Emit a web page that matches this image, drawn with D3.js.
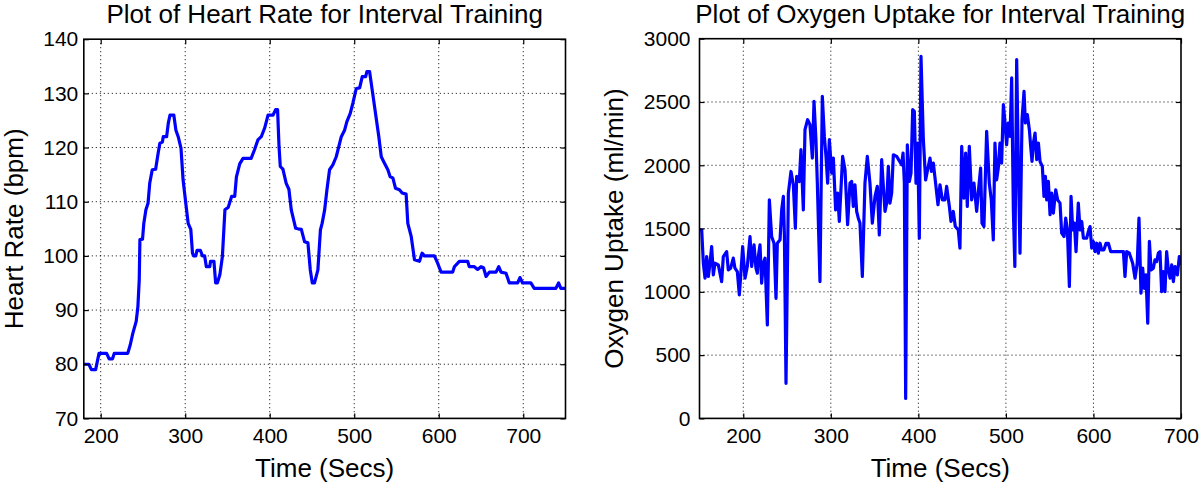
<!DOCTYPE html>
<html><head><meta charset="utf-8">
<script src="https://cdn.jsdelivr.net/npm/d3@7"></script>
<style>
html,body{margin:0;padding:0;background:#fff;}
svg{display:block;font-family:"Liberation Sans",Arial,Helvetica,sans-serif;}
</style></head>
<body>
<svg id="chart" width="1200" height="484"></svg>
<script>
// ---- Heart rate data ----
const hrTime = [180,186,189,194,198,207,210,214,216,232,235,238,242,244,245.6,246.4,249.5,251,253.5,256,258,261,265,268,270,273,274,278,280,282,286.5,289,291.7,295,297.5,300.7,303.5,306.6,308.6,310,312.5,314,318,320.4,323,325,329,330,334,336,338,341,344,347,351,355,358.6,360.6,364.5,368.4,378,382,386,390,394,398,404,407,409.3,411,412.5,415.6,419.5,422.7,425.5,430.7,433.4,437.4,441.3,445.2,448,450.4,453,457,460,462,465,467.7,470.8,474.7,478.7,481.8,484.7,488.6,491.3,495.3,498.4,502.4,506.4,509.5,513.5,515,518.2,521.3,525.2,529.1,532,535.8,539.8,542.5,545.7,548.8,553.5,556.7,561.4,563.4,567.4,571.3,577.2,580.3,583.1,594.9,598.8,602.8,616.5,618.5,624.4,634.2,636.2,642.1,646,650,653,656,659.9,667.8,671,673.7,679.6,683.5,693.4,696.1,699.2,709,713,738.6,741.8,744.5,750];
const hrValue = [80,80,79,79,82,82,81,81,82,82,83.6,85.7,87.9,90.6,95.6,103,103.1,106,108.5,109.7,113.4,115.9,116,119,120.8,121,122,122,124.5,126,126,123.2,122,119.9,114,109.7,106,104.9,100.5,100,100,101,101,100,100,98,98,99,99,95,95,96.5,99.9,108.5,109,111,111,114.6,117,118,118,119.6,121.4,122,123.6,126,126,127,127,120.2,116.5,116,113.4,112.3,108.5,105.1,105,104.9,102.6,102.4,97.4,95,95,97.4,104.8,106,108.5,112.2,115.9,116.8,118.3,120.2,122,123.2,124.8,126.3,128.2,130.9,131,133.1,133.1,134,134,130.6,126.3,122,118.3,117.1,115.9,114.6,114.4,112.5,112.2,111.6,111.4,106,103.6,99.3,99,100.5,100,100,98.6,97,97,98,99,99,98,98,97.5,98,97.8,96.2,97,97,98,97,96.8,95,95,96,95,95,94,94,95,94,94];

// ---- Oxygen uptake data ----
const o2Time = [150.6,152.5,154.4,156.3,158.2,160.1,162,163.9,165.8,167.7,171.5,175.3,177.2,181,182.9,185.6,188.6,190.5,193.2,195.5,197,199.3,202,204.6,207.7,209.6,212.3,214.5,216.1,217.2,219.1,221,222.9,224.8,227.5,229.8,232.4,235.1,237.4,238.9,242,243.9,245.8,247,248.8,251.5,254.5,257.2,259.5,261,264,265.9,268.6,270.5,273.5,276.2,278.9,280.8,283,284.6,287.6,290.3,292.6,294.5,296.4,298.3,301,302.9,305.5,307.8,309.7,313.5,316.2,319.2,321.9,323.8,325.7,327.6,329.5,331.4,333.3,336,339,341.7,344.7,347.4,350.5,353.1,355.4,358.1,360,361.9,363.8,365.7,367.6,369.5,371.4,375.2,380.9,382.5,384,385.5,387.4,389.7,391.6,393.5,395.4,397.3,399.2,401.1,403,405.7,408.3,410.6,413.3,415,417.1,420.1,422.4,424.7,427.4,430.4,432.3,435.4,437.3,439.9,442.2,445.6,447.5,449.5,452.1,454,455.9,458.2,460.9,463.5,466.6,468.9,471.1,472.7,474.9,478,481,483.3,485.6,487.5,489.4,491.3,493.2,495.1,497.1,499,500.8,502.8,504.7,506.6,508.5,510.2,512.3,514.2,516.1,518.4,520.7,522.2,524.5,526.8,528.3,529.8,531.4,533.3,535.2,537.1,539,541.6,543.5,545.1,546.6,548.5,550.4,552.3,554.2,556.9,559.1,561.8,563.7,566.4,568.3,570.2,572.5,574.4,576.3,578.2,580.1,582.7,584.7,586.6,588.5,592.3,594.2,596.1,598,599.9,601.8,603.7,605.6,607.5,609.4,612,614.4,617,619.7,634.2,636,638,641,644.8,647.5,650,652,654.3,656.2,658.1,660,662,663.9,665.8,668.4,670.3,672.2,674.1,676,677.9,679.8,681.7,683.6,685.5,687.5,689.4,691.3,693.2,695.9,698.1,700];
const o2Value = [1490,1490,1226,1108,1279,1121,1226,1358,1134,1226,1213,1081,1279,1318,1173,1187,1266,1187,1160,976,1121,1358,1108,1200,1437,1200,1371,1187,1147,1279,1371,1068,1226,1266,738,1727,1437,1384,949,1384,1411,1648,1754,1437,277,1780,1951,1846,1503,1912,1872,2123,1648,2281,2360,2321,2057,2505,2202,1859,1081,2545,2228,2070,1859,2202,1938,2057,1648,1780,1556,2070,1965,1530,1859,1872,1675,1846,1635,1582,1543,1121,1859,2070,1859,1543,1754,1833,1450,2044,1833,1635,1701,1991,1701,1780,2083,2070,2004,2096,1859,158,2162,1872,1938,2439,2426,1859,2176,1424,2861,2202,1885,1965,2057,1951,2017,1833,1688,1846,1727,1727,1833,1675,1556,1635,1516,1490,1345,2149,1740,2096,1675,2149,1727,1859,1635,1820,1978,1543,1516,2268,1859,1727,1411,2176,1885,1978,2176,2017,2479,2334,2162,2334,2228,2690,1648,1200,2835,2017,1305,2360,2584,2334,2400,2281,2149,2030,2176,2255,2044,2176,2030,1991,1754,1912,1727,1872,1609,1780,1622,1806,1727,1701,1464,1437,1582,1490,1042,1754,1490,1543,1318,1701,1490,1556,1424,1424,1477,1516,1345,1398,1318,1384,1305,1384,1332,1332,1384,1384,1318,1318,1121,1318,1305,1226,1108,1226,1582,989,1187,1028,1134,752,1398,1173,1187,1253,1239,1305,1318,1002,1160,1002,1318,1173,1108,1213,1081,1200,1134,1279,1226];

// ---- Axis settings ----
const hrTitle = "Plot of Heart Rate for Interval Training";
const hrYLabel = "Heart Rate (bpm)";
const hrXDomain = [180, 750];
const hrYDomain = [70, 140];
const hrXTicks = [200, 300, 400, 500, 600, 700];
const hrYTicks = [70, 80, 90, 100, 110, 120, 130, 140];

const o2Title = "Plot of Oxygen Uptake for Interval Training";
const o2YLabel = "Oxygen Uptake (ml/min)";
const o2XDomain = [150, 700];
const o2YDomain = [0, 3000];
const o2XTicks = [200, 300, 400, 500, 600, 700];
const o2YTicks = [0, 500, 1000, 1500, 2000, 2500, 3000];

const xLabel = "Time (Secs)";

const svg = d3.select("#chart");

function panel(opts) {
  const {left, right, top, bottom, xDomain, yDomain, xTicks, yTicks, times, values, title, yLabel, yLabelX, yTickGap, clipId} = opts;
  const x = d3.scaleLinear().domain(xDomain).range([left, right]);
  const y = d3.scaleLinear().domain(yDomain).range([bottom, top]);
  const g = svg.append("g");

  // grid (dotted)
  const grid = g.append("g").attr("stroke", "#000").attr("stroke-width", 1).attr("stroke-dasharray", "1,3");
  xTicks.filter(t => x(t) > left + 1 && x(t) < right - 1).forEach(t => {
    grid.append("line").attr("x1", x(t)).attr("x2", x(t)).attr("y1", top).attr("y2", bottom);
  });
  yTicks.filter(t => y(t) > top + 1 && y(t) < bottom - 1).forEach(t => {
    grid.append("line").attr("x1", left).attr("x2", right).attr("y1", y(t)).attr("y2", y(t));
  });

  // data line
  svg.append("clipPath").attr("id", clipId).append("rect")
    .attr("x", left).attr("y", top).attr("width", right - left).attr("height", bottom - top);
  const line = d3.line().x((d, i) => x(times[i])).y((d, i) => y(values[i]));
  g.append("path").datum(values)
    .attr("clip-path", `url(#${clipId})`)
    .attr("fill", "none").attr("stroke", "#0000ff").attr("stroke-width", 3.2)
    .attr("stroke-linejoin", "round").attr("stroke-linecap", "round")
    .attr("d", line);

  // axes with inward ticks
  const tl = 5;
  const xAxisB = d3.axisBottom(x).tickValues(xTicks).tickSize(-tl).tickPadding(tl + 8).tickSizeOuter(0).tickFormat(d3.format("d"));
  const xAxisT = d3.axisTop(x).tickValues(xTicks).tickSize(-tl).tickSizeOuter(0).tickFormat("");
  const yAxisL = d3.axisLeft(y).tickValues(yTicks).tickSize(-tl).tickPadding(tl + yTickGap).tickSizeOuter(0).tickFormat(d3.format("d"));
  const yAxisR = d3.axisRight(y).tickValues(yTicks).tickSize(-tl).tickSizeOuter(0).tickFormat("");

  const ax = [
    g.append("g").attr("transform", `translate(0,${bottom})`).call(xAxisB),
    g.append("g").attr("transform", `translate(0,${top})`).call(xAxisT),
    g.append("g").attr("transform", `translate(${left},0)`).call(yAxisL),
    g.append("g").attr("transform", `translate(${right},0)`).call(yAxisR)
  ];
  ax.forEach(a => {
    a.select(".domain").remove();
    a.selectAll(".tick line").attr("stroke", "#000").attr("stroke-width", 1.2);
    a.selectAll(".tick text").attr("fill", "#000").style("font-size", "21px")
      .style("font-family", '"Liberation Sans",Arial,Helvetica,sans-serif');
  });
  ax[0].selectAll(".tick text").attr("dy", "0.71em").attr("y", 10);

  // box
  g.append("rect").attr("x", left).attr("y", top).attr("width", right - left).attr("height", bottom - top)
    .attr("fill", "none").attr("stroke", "#000").attr("stroke-width", 1.6);

  // title
  g.append("text").attr("x", (left + right) / 2).attr("y", 23).attr("text-anchor", "middle")
    .style("font-size", "26px").attr("fill", "#000").text(title);
  // x label
  g.append("text").attr("x", (left + right) / 2).attr("y", 477).attr("text-anchor", "middle")
    .style("font-size", "26px").attr("fill", "#000").text(xLabel);
  // y label
  g.append("text").attr("transform", `translate(${yLabelX},${(top + bottom) / 2}) rotate(-90)`)
    .attr("text-anchor", "middle").style("font-size", "26px").attr("fill", "#000").text(yLabel);
}

panel({left: 83.8, right: 565.5, top: 39.2, bottom: 418.4,
  xDomain: hrXDomain, yDomain: hrYDomain, xTicks: hrXTicks, yTicks: hrYTicks,
  times: hrTime, values: hrValue, title: hrTitle, yLabel: hrYLabel, yLabelX: 23, yTickGap: 0.5, clipId: "clipHR"});

panel({left: 699.5, right: 1181, top: 38.7, bottom: 418.4,
  xDomain: o2XDomain, yDomain: o2YDomain, xTicks: o2XTicks, yTicks: o2YTicks,
  times: o2Time, values: o2Value, title: o2Title, yLabel: o2YLabel, yLabelX: 623, yTickGap: 4, clipId: "clipO2"});
</script>
</body></html>
